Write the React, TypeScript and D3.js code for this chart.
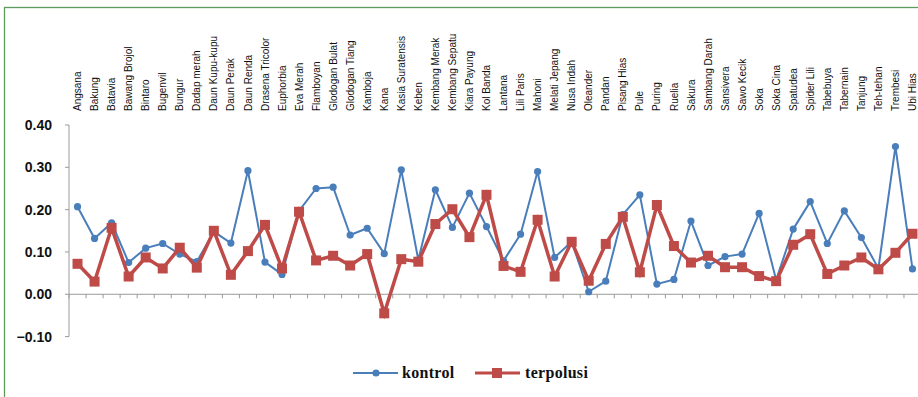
import React from "react";
import * as d3 from "d3";

const categories = [
  "Angsana", "Bakung", "Batavia", "Bawang Brojol", "Bintaro", "Bugenvil", "Bungur",
  "Dadap merah", "Daun Kupu-kupu", "Daun Perak", "Daun Renda", "Drasena Tricolor",
  "Euphorbia", "Eva Merah", "Flamboyan", "Glodogan Bulat", "Glodogan Tiang", "Kamboja",
  "Kana", "Kasia Suratensis", "Keben", "Kembang Merak", "Kembang Sepatu", "Kiara Payung",
  "Kol Banda", "Lantana", "Lili Paris", "Mahoni", "Melati Jepang", "Nusa Indah",
  "Oleander", "Pandan", "Pisang Hias", "Pule", "Puring", "Ruelia", "Sakura",
  "Sambang Darah", "Sansivera", "Sawo Kecik", "Soka", "Soka Cina", "Spatudea",
  "Spider Lili", "Tabebuya", "Tabernain", "Tanjung", "Teh-tehan", "Trembesi", "Ubi Hias",
];

const kontrol = [
  0.207, 0.132, 0.169, 0.075, 0.109, 0.12, 0.095, 0.077, 0.148, 0.121,
  0.292, 0.076, 0.047, 0.197, 0.25, 0.253, 0.14, 0.156, 0.096, 0.294,
  0.081, 0.247, 0.158, 0.239, 0.16, 0.079, 0.142, 0.29, 0.087, 0.124,
  0.006, 0.031, 0.188, 0.235, 0.024, 0.035, 0.173, 0.068, 0.089, 0.095,
  0.191, 0.034, 0.154, 0.219, 0.12, 0.197, 0.134, 0.061, 0.349, 0.06,
];

const terpolusi = [
  0.072, 0.03, 0.157, 0.042, 0.087, 0.061, 0.11, 0.063, 0.15, 0.046,
  0.102, 0.164, 0.061, 0.195, 0.08, 0.091, 0.068, 0.095, -0.045, 0.083,
  0.077, 0.166, 0.201, 0.135, 0.235, 0.067, 0.053, 0.176, 0.042, 0.124,
  0.032, 0.119, 0.183, 0.052, 0.211, 0.114, 0.075, 0.091, 0.064, 0.064,
  0.043, 0.031, 0.117, 0.142, 0.048, 0.068, 0.087, 0.059, 0.098, 0.143,
];

const yTicks = [0.4, 0.3, 0.2, 0.1, 0.0, -0.1];
const seriesNames = ["kontrol", "terpolusi"];

const W = 918;
const H = 397;
const BLUE = "#4a7ebb";
const RED = "#be4b48";
const AXIS = "#9a9a9a";

export default function App() {
  const x = d3
    .scaleBand<string>()
    .domain(categories)
    .range([69, 69 + categories.length * 17.04])
    .padding(0);
  const y = d3.scaleLinear().domain([-0.1, 0.4]).range([336.6, 125]);
  const cx = (c: string) => (x(c) as number) + x.bandwidth() / 2;

  const line = d3
    .line<number>()
    .x((_, i) => cx(categories[i]))
    .y((d) => y(d));

  const y0 = y(0);
  const boundaries = d3.range(categories.length + 1).map((k) => 69 + k * x.bandwidth());

  return (
    <svg
      width={W}
      height={H}
      style={{ position: "absolute", left: 0, top: 0, background: "#fff" }}
    >
      <rect x={0} y={0} width={W} height={H} fill="#fff" />
      <rect x={4.5} y={7.5} width={W + 10} height={H + 10} fill="none" stroke="#5c9c5c" strokeWidth={1.3} />

      {/* category labels */}
      {categories.map((c) => (
        <g key={c} transform={`translate(${cx(c) + 3.6},111) rotate(-90)`}>
          <text
            x={0}
            y={0}
            textAnchor="start"
            fontFamily="'Liberation Sans', Arial, sans-serif"
            fontSize={10}
            fill="#111"
          >
            {c}
          </text>
        </g>
      ))}

      {/* y axis */}
      <line x1={69} x2={69} y1={y(0.4)} y2={y(-0.1)} stroke={AXIS} strokeWidth={1} />
      {yTicks.map((t) => (
        <g key={t}>
          <line x1={65} x2={69} y1={y(t)} y2={y(t)} stroke={AXIS} strokeWidth={1} />
          <text
            x={52}
            y={y(t) + 5}
            textAnchor="end"
            fontFamily="'Liberation Sans', Arial, sans-serif"
            fontWeight="bold"
            fontSize={14}
            fill="#111"
          >
            {d3.format(".2f")(t)}
          </text>
        </g>
      ))}

      {/* x axis at zero */}
      <line x1={69} x2={W} y1={y0} y2={y0} stroke={AXIS} strokeWidth={1} />
      {boundaries.map((b, i) => (
        <line key={i} x1={b} x2={b} y1={y0} y2={y0 + 4} stroke={AXIS} strokeWidth={1} />
      ))}

      {/* kontrol */}
      <path d={line(kontrol) || ""} fill="none" stroke={BLUE} strokeWidth={2} strokeLinejoin="round" />
      {kontrol.map((v, i) => (
        <circle key={i} cx={cx(categories[i])} cy={y(v)} r={3.6} fill={BLUE} />
      ))}

      {/* terpolusi */}
      <path d={line(terpolusi) || ""} fill="none" stroke={RED} strokeWidth={3.5} strokeLinejoin="miter" />
      {terpolusi.map((v, i) => (
        <rect key={i} x={cx(categories[i]) - 5} y={y(v) - 5} width={10} height={10} fill={RED} />
      ))}

      {/* legend */}
      <g fontFamily="'Liberation Serif', 'Times New Roman', serif" fontWeight="bold" fontSize={16} fill="#111">
        <line x1={353} x2={398} y1={373} y2={373} stroke={BLUE} strokeWidth={2} />
        <circle cx={376} cy={373} r={3.6} fill={BLUE} />
        <text x={402} y={378} letterSpacing={0.3}>{seriesNames[0]}</text>
        <line x1={475} x2={520} y1={373} y2={373} stroke={RED} strokeWidth={3} />
        <rect x={492} y={368} width={10} height={10} fill={RED} />
        <text x={525} y={378} letterSpacing={0.3}>{seriesNames[1]}</text>
      </g>
    </svg>
  );
}
